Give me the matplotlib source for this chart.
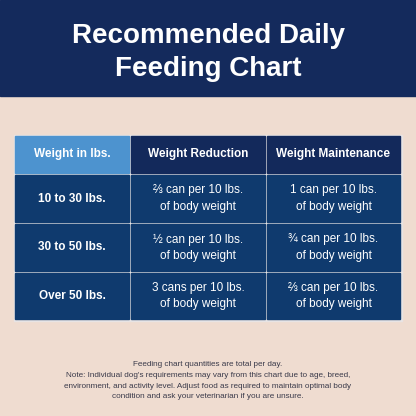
import matplotlib
matplotlib.use("Agg")
import matplotlib.pyplot as plt
from matplotlib.patches import Rectangle

title_lines = ["Recommended Daily", "Feeding Chart"]
headers = ["Weight in lbs.", "Weight Reduction", "Weight Maintenance"]
weights = ["10 to 30 lbs.", "30 to 50 lbs.", "Over 50 lbs."]
reduction = ["⅔ can per 10 lbs.\nof body weight", "½ can per 10 lbs.\nof body weight",
             "3 cans per 10 lbs.\nof body weight"]
maintenance = ["1 can per 10 lbs.\nof body weight", "¾ can per 10 lbs.\nof body weight",
               "⅔ can per 10 lbs.\nof body weight"]
note_lines = ["Feeding chart quantities are total per day.",
              "Note: Individual dog's requirements may vary from this chart due to age, breed,",
              "environment, and activity level. Adjust food as required to maintain optimal body",
              "condition and ask your veterinarian if you are unsure."]

FONT = ["Liberation Sans Narrow", "Liberation Sans", "DejaVu Sans"]

fig = plt.figure(figsize=(4.16, 4.16), dpi=100)
fig.patch.set_facecolor("#efdcd0")
ax = fig.add_axes([0, 0, 1, 1])
ax.set_xlim(0, 416)
ax.set_ylim(416, 0)
ax.axis("off")

# top banner
ax.add_patch(Rectangle((0, 0), 416, 96, color="#142a5c"))
for i, line in enumerate(title_lines):
    ax.text(208, 36 + i * 33, line, color="white", fontsize=20, fontweight="bold",
            ha="center", va="center", family=FONT)

# table
col_x = [15, 130, 266, 401]
row_y = [136, 174, 223, 272, 320]
ax.add_patch(Rectangle((14, 135), 388, 186, color="#e8e4e4"))
for r in range(4):
    for c in range(3):
        x0, x1 = col_x[c] + (1 if c else 0), col_x[c + 1] - 1
        y0, y1 = row_y[r] + (1 if r else 0), row_y[r + 1] - 1
        if r == 0:
            color = "#4d93cf" if c == 0 else "#13295b"
        else:
            color = "#0f3a6e"
        ax.add_patch(Rectangle((x0, y0), x1 - x0, y1 - y0, color=color))
        if r == 0:
            txt, bold = headers[c], True
        else:
            txt = [weights, reduction, maintenance][c][r - 1]
            bold = c == 0
        ax.text((x0 + x1) / 2, (y0 + y1) / 2, txt, color="white", fontsize=8.5,
                fontweight="bold" if bold else "normal", ha="center", va="center",
                linespacing=1.45, family=FONT)

# footnote
for i, line in enumerate(note_lines):
    ax.text(208, 365 + i * 10.5, line, color="#3a3a4a", fontsize=5.9, ha="center",
            va="center", family=["Liberation Sans", "DejaVu Sans"])

fig.savefig("out.png", dpi=100, facecolor=fig.get_facecolor())
